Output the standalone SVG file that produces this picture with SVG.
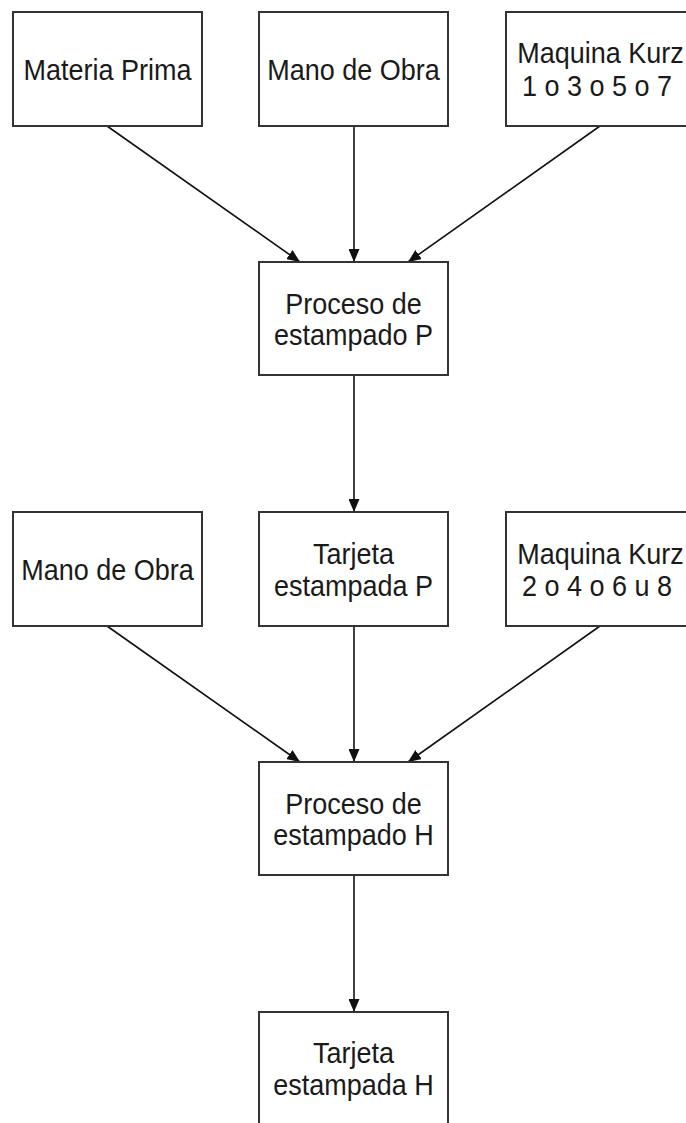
<svg xmlns="http://www.w3.org/2000/svg" width="686" height="1123" viewBox="0 0 686 1123">
  <style>
    .box { fill: #ffffff; stroke: #333333; stroke-width: 2; }
    .lbl { font-family: "Liberation Sans", Arial, sans-serif; font-size: 30px; fill: #1a1a1a; text-anchor: middle; }
    .edge { fill: none; stroke: #111111; stroke-width: 1.6; marker-end: url(#arrow); }
  </style>
  <defs>
    <marker id="arrow" markerUnits="userSpaceOnUse" markerWidth="14" markerHeight="11" refX="13" refY="5.5" orient="auto">
      <path d="M0,0 L13,5.5 L0,11 z" fill="#111111"/>
    </marker>
  </defs>
  <rect width="686" height="1123" fill="#ffffff"/>

  <!-- connectors -->
  <g id="connectors">
    <line class="edge" x1="107" y1="126" x2="300" y2="262"/>
    <line class="edge" x1="354" y1="126" x2="354" y2="262"/>
    <line class="edge" x1="600" y1="126" x2="408" y2="262"/>
    <line class="edge" x1="354" y1="375" x2="354" y2="512"/>
    <line class="edge" x1="107" y1="626" x2="300" y2="762"/>
    <line class="edge" x1="354" y1="626" x2="354" y2="762"/>
    <line class="edge" x1="600" y1="626" x2="408" y2="762"/>
    <line class="edge" x1="354" y1="875" x2="354" y2="1012"/>
  </g>

  <!-- first row: inputs (labels slightly condensed horizontally) -->
  <g id="materia-prima">
    <rect class="box" x="13" y="12" width="189" height="114"/>
    <text class="lbl" transform="translate(107.5,80) scale(0.9,1)">Materia Prima</text>
  </g>
  <g id="mano-obra-1">
    <rect class="box" x="259" y="12" width="189" height="114"/>
    <text class="lbl" transform="translate(353.5,80) scale(0.9,1)">Mano de Obra</text>
  </g>
  <g id="maquina-kurz-1">
    <rect class="box" x="506" y="12" width="189" height="114"/>
    <text class="lbl" transform="translate(600.5,63) scale(0.9,1)">Maquina Kurz</text>
    <text class="lbl" transform="translate(597,96) scale(0.9,1)">1 o 3 o 5 o 7</text>
  </g>

  <!-- process P -->
  <g id="proceso-p">
    <rect class="box" x="259" y="262" width="189" height="113"/>
    <text class="lbl" transform="translate(353.5,314) scale(0.9,1)">Proceso de</text>
    <text class="lbl" transform="translate(353.5,345) scale(0.9,1)">estampado P</text>
  </g>

  <!-- second row -->
  <g id="mano-obra-2">
    <rect class="box" x="13" y="512" width="189" height="114"/>
    <text class="lbl" transform="translate(107.5,580) scale(0.9,1)">Mano de Obra</text>
  </g>
  <g id="tarjeta-p">
    <rect class="box" x="259" y="512" width="189" height="114"/>
    <text class="lbl" transform="translate(353.5,564) scale(0.9,1)">Tarjeta</text>
    <text class="lbl" transform="translate(353.5,596) scale(0.9,1)">estampada P</text>
  </g>
  <g id="maquina-kurz-2">
    <rect class="box" x="506" y="512" width="189" height="114"/>
    <text class="lbl" transform="translate(600.5,564) scale(0.9,1)">Maquina Kurz</text>
    <text class="lbl" transform="translate(597,596) scale(0.9,1)">2 o 4 o 6 u 8</text>
  </g>

  <!-- process H -->
  <g id="proceso-h">
    <rect class="box" x="259" y="762" width="189" height="113"/>
    <text class="lbl" transform="translate(353.5,814) scale(0.9,1)">Proceso de</text>
    <text class="lbl" transform="translate(353.5,845) scale(0.9,1)">estampado H</text>
  </g>

  <!-- output -->
  <g id="tarjeta-h">
    <rect class="box" x="259" y="1012" width="189" height="114"/>
    <text class="lbl" transform="translate(353.5,1063) scale(0.9,1)">Tarjeta</text>
    <text class="lbl" transform="translate(353.5,1095) scale(0.9,1)">estampada H</text>
  </g>
</svg>
